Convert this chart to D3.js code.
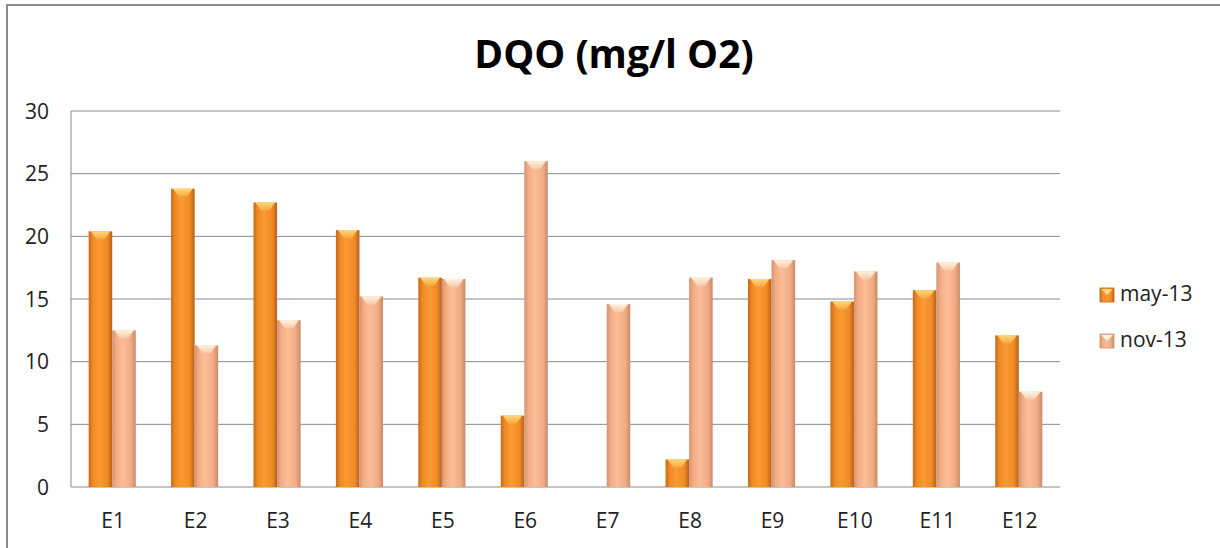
<!DOCTYPE html>
<html>
<head>
<meta charset="utf-8">
<script src="https://cdn.jsdelivr.net/npm/d3@7"></script>
<style>
  html, body { margin: 0; padding: 0; background: #fff; }
  svg { display: block; font-family: "Open Sans", "Liberation Sans", sans-serif; }
</style>
</head>
<body>
<svg id="chart" width="1220" height="548"></svg>
<script>
// Stations and DQO readings (mg/l O2) for two sampling campaigns
const stations = ["E1","E2","E3","E4","E5","E6","E7","E8","E9","E10","E11","E12"];
const may13 = [20.4, 23.8, 22.7, 20.5, 16.7, 5.7, 0, 2.2, 16.6, 14.8, 15.7, 12.1];
const nov13 = [12.5, 11.3, 13.3, 15.2, 16.6, 26.0, 14.6, 16.7, 18.1, 17.2, 17.9, 7.6];
const seriesNames = ["may-13", "nov-13"];
const yTicks = [0, 5, 10, 15, 20, 25, 30];

const svg = d3.select("#chart");
const W = 1220, H = 548;
const plot = { left: 71, right: 1060, top: 111, bottom: 487 };

// Outer frame (top and left edges visible)
svg.append("path")
  .attr("d", `M7,${H} L7,5 L${W},5`)
  .attr("fill", "none").attr("stroke", "#8c8c8c").attr("stroke-width", 2);

// Gradients giving the bars a rounded, shaded look
const defs = svg.append("defs");
const palettes = [
  { id: "may", stops: ["#c9681a", "#f08a24", "#fb9a33", "#f08a24", "#b85f1c"], cap: "#ffd77a", capEdge: "#f5a842" },
  { id: "nov", stops: ["#d4936f", "#f4ad86", "#fbbd98", "#f2aa84", "#c88a6c"], cap: "#fff3df", capEdge: "#f6c8a8" }
];
palettes.forEach(p => {
  const g = defs.append("linearGradient").attr("id", "grad-" + p.id)
    .attr("x1", "0%").attr("x2", "100%").attr("y1", "0%").attr("y2", "0%");
  [0, 0.18, 0.45, 0.8, 1].forEach((o, i) =>
    g.append("stop").attr("offset", o).attr("stop-color", p.stops[i]));
  const c = defs.append("linearGradient").attr("id", "cap-" + p.id)
    .attr("x1", "0%").attr("x2", "0%").attr("y1", "0%").attr("y2", "100%");
  c.append("stop").attr("offset", 0).attr("stop-color", p.cap);
  c.append("stop").attr("offset", 1).attr("stop-color", p.capEdge);
});

// Scales
const x0 = d3.scaleBand().domain(stations).range([plot.left, plot.right]).paddingInner(0).paddingOuter(0);
const x1 = d3.scaleBand().domain(seriesNames).range([0, x0.bandwidth()]).paddingInner(0).paddingOuter(0.75);
const y = d3.scaleLinear().domain([0, 30]).range([plot.bottom, plot.top]);

// Horizontal gridlines
svg.append("g").selectAll("line").data(yTicks).join("line")
  .attr("x1", plot.left).attr("x2", plot.right)
  .attr("y1", d => y(d)).attr("y2", d => y(d))
  .attr("stroke", "#8a8a8a").attr("stroke-width", 1);

// Left axis line
svg.append("line")
  .attr("x1", plot.left).attr("x2", plot.left)
  .attr("y1", plot.top).attr("y2", plot.bottom)
  .attr("stroke", "#8a8a8a").attr("stroke-width", 1);

// Y tick labels
svg.append("g").selectAll("text").data(yTicks).join("text")
  .attr("x", 49).attr("y", d => y(d) + 7.5)
  .attr("text-anchor", "end").attr("font-size", 21).attr("fill", "#222")
  .text(d => d);

// X tick labels
svg.append("g").selectAll("text").data(stations).join("text")
  .attr("x", d => x0(d) + x0.bandwidth() / 2 + 1).attr("y", 528)
  .attr("text-anchor", "middle").attr("font-size", 21).attr("fill", "#222")
  .text(d => d);

// Bars
const seriesData = [may13, nov13];
seriesNames.forEach((name, si) => {
  const p = palettes[si];
  const g = svg.append("g");
  const data = stations.map((s, i) => ({ s, v: seriesData[si][i] })).filter(d => d.v > 0);
  const bx = d => x0(d.s) + x1(name);
  const bw = x1.bandwidth();
  g.selectAll("rect.body").data(data).join("rect").attr("class", "body")
    .attr("x", bx).attr("width", bw)
    .attr("y", d => y(d.v)).attr("height", d => y(0) - y(d.v))
    .attr("fill", `url(#grad-${p.id})`);
  // Bevelled top cap
  g.selectAll("path.cap").data(data).join("path").attr("class", "cap")
    .attr("d", d => {
      const x = bx(d), t = y(d.v), h = Math.min(8, (y(0) - y(d.v)) * 0.8);
      return `M${x + 2},${t} L${x + bw - 2},${t} L${x + bw / 2 + 4},${t + h} L${x + bw / 2 - 4},${t + h} Z`;
    })
    .attr("fill", `url(#cap-${p.id})`);
});

// Title
svg.append("text")
  .attr("x", 614).attr("y", 68).attr("text-anchor", "middle")
  .attr("font-size", 39).attr("font-weight", "bold").attr("fill", "#000")
  .text("DQO (mg/l O2)");

// Legend
const legend = svg.append("g");
seriesNames.forEach((name, i) => {
  const ly = 295 + i * 46;
  legend.append("rect").attr("x", 1100).attr("y", ly - 7).attr("width", 14).attr("height", 14)
    .attr("fill", `url(#grad-${palettes[i].id})`).attr("stroke", palettes[i].stops[0]).attr("stroke-width", 0.8);
  legend.append("path")
    .attr("d", `M1101,${ly - 6} L1113,${ly - 6} L1107,${ly} Z`)
    .attr("fill", palettes[i].cap);
  legend.append("text").attr("x", 1120).attr("y", ly + 6)
    .attr("font-size", 21).attr("fill", "#222").text(name);
});
</script>
</body>
</html>
